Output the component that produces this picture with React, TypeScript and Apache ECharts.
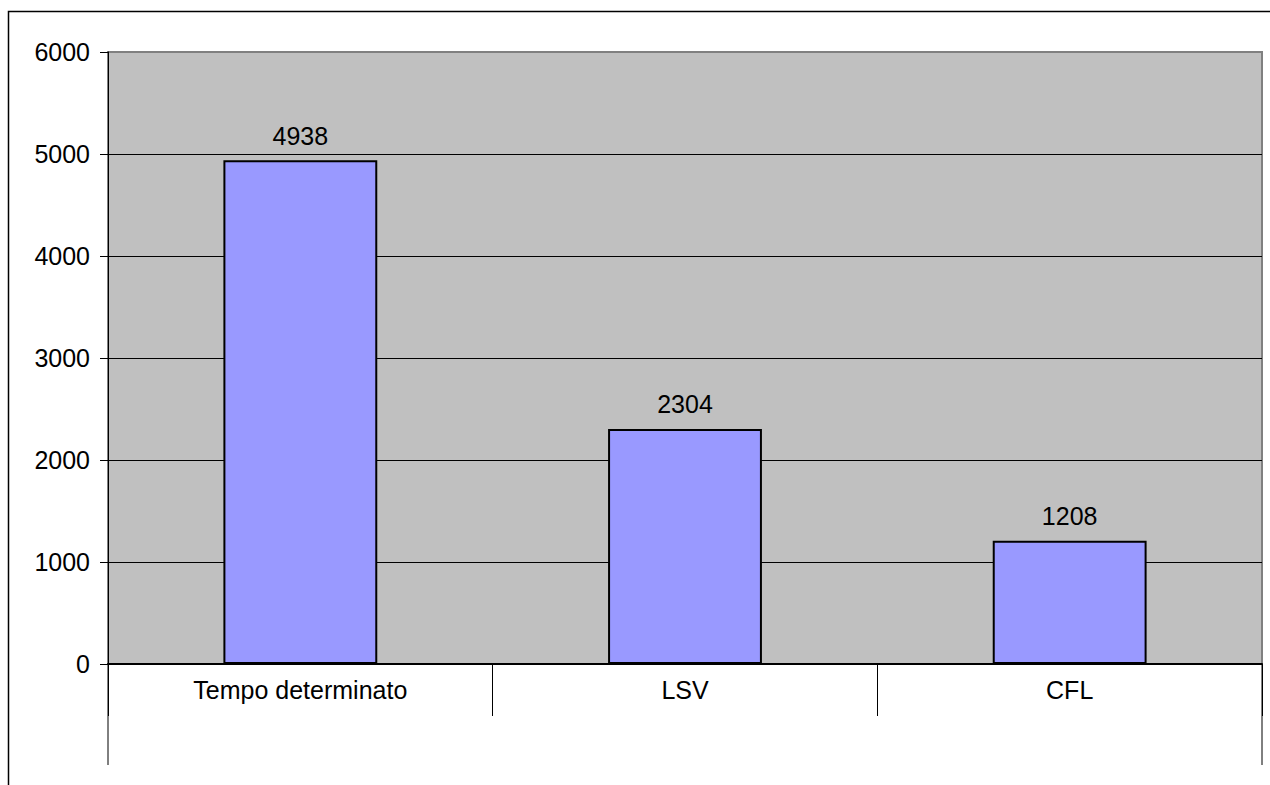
import React, { useEffect, useRef } from "react";
import * as echarts from "echarts";

const categories = ["Tempo determinato", "LSV", "CFL"];
const values = [4938, 2304, 1208];
const yTicks = { min: 0, max: 6000, interval: 1000 };

export default function App() {
  const ref = useRef<HTMLDivElement>(null);
  useEffect(() => {
    document.body.style.margin = "0";
    const chart = echarts.init(ref.current!, null, { renderer: "svg" });
    const font = "Liberation Sans, Arial, sans-serif";
    chart.setOption({
      animation: false,
      backgroundColor: "#ffffff",
      grid: {
        left: 108,
        right: 8,
        top: 52,
        bottom: 121,
        show: true,
        backgroundColor: "#C0C0C0",
        borderColor: "#808080",
        borderWidth: 2,
      },
      xAxis: {
        type: "category",
        data: categories,
        boundaryGap: true,
        axisLine: { show: true, lineStyle: { color: "#000", width: 2 } },
        axisTick: { show: true, interval: 0, length: 52, lineStyle: { color: "#000", width: 1 } },
        axisLabel: { color: "#000", fontFamily: font, fontSize: 25, margin: 13 },
        splitLine: { show: false },
      },
      yAxis: {
        type: "value",
        min: yTicks.min,
        max: yTicks.max,
        interval: yTicks.interval,
        axisLine: { show: true, lineStyle: { color: "#000", width: 1 } },
        axisTick: { show: true, length: 8, lineStyle: { color: "#000" } },
        axisLabel: {
          color: "#000",
          fontFamily: font,
          fontSize: 25,
          margin: 18,
          formatter: (v: number) => String(v),
        },
        splitLine: { show: true, showMaxLine: false, lineStyle: { color: "#000", width: 1 } },
      },
      series: [
        {
          type: "bar",
          data: values,
          barWidth: "40%",
          itemStyle: { color: "#9999FF", borderColor: "#000", borderWidth: 2 },
          label: {
            show: true,
            position: "top",
            distance: 12,
            color: "#000",
            fontFamily: font,
            fontSize: 25,
          },
        },
      ],
      graphic: [
        {
          type: "rect",
          shape: { x: 8.5, y: 11.5, width: 1300, height: 900 },
          style: { fill: "none", stroke: "#000", lineWidth: 1.5 },
          silent: true,
          z: 100,
        },
        {
          type: "line",
          shape: { x1: 108, y1: 664, x2: 108, y2: 765 },
          style: { stroke: "#000", lineWidth: 1 },
          z: 100,
        },
        {
          type: "line",
          shape: { x1: 1262, y1: 664, x2: 1262, y2: 765 },
          style: { stroke: "#000", lineWidth: 1 },
          z: 100,
        },
      ],
    });
    return () => chart.dispose();
  }, []);
  return (
    <div
      ref={ref}
      style={{ position: "absolute", left: 0, top: 0, width: 1270, height: 785 }}
    />
  );
}
